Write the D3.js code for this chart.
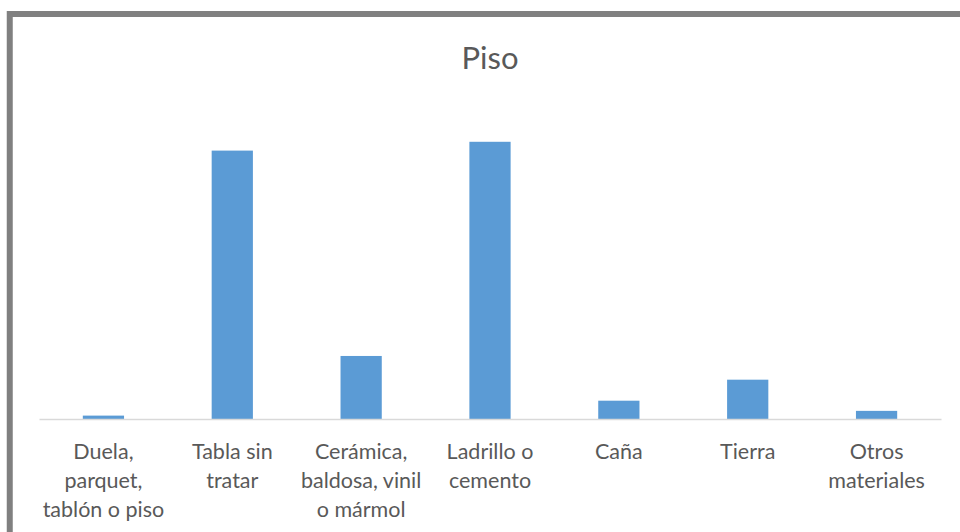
<!DOCTYPE html>
<html>
<head>
<meta charset="utf-8">
<script src="https://cdn.jsdelivr.net/npm/d3@7/dist/d3.min.js"></script>
<style>
  html, body { margin: 0; padding: 0; background: #fff; }
  svg { display: block; }
</style>
</head>
<body>
<svg id="chart" width="960" height="532"></svg>
<script>
// ---- data ----
const title = "Piso";
const categories = [
  "Duela,\nparquet,\ntablón o piso",
  "Tabla sin\ntratar",
  "Cerámica,\nbaldosa, vinil\no mármol",
  "Ladrillo o\ncemento",
  "Caña",
  "Tierra",
  "Otros\nmateriales"
];
const values = [0.5, 39.6, 9.3, 40.9, 2.7, 5.8, 1.2];
const yDomain = [0, 45];

// ---- layout ----
const W = 960, H = 532;
const plot = { left: 39, right: 941, top: 114, bottom: 419 };
const barColor = "#5B9BD5";
const textColor = "#595959";
const fontFamily = "Lato, 'Open Sans', sans-serif";

const svg = d3.select("#chart");

svg.append("rect")
  .attr("x", 0).attr("y", 0).attr("width", W).attr("height", H)
  .attr("fill", "#fff");

// outer chart border (extends past right/bottom edges)
svg.append("rect")
  .attr("x", 9.75).attr("y", 14)
  .attr("width", W + 20).attr("height", H + 20)
  .attr("fill", "none")
  .attr("stroke", "#808080")
  .attr("stroke-width", 6);

const x = d3.scaleBand()
  .domain(categories)
  .range([plot.left, plot.right])
  .paddingInner(0.68)
  .paddingOuter(0.34);

const y = d3.scaleLinear()
  .domain(yDomain)
  .range([plot.bottom, plot.top]);

// bars
svg.append("g")
  .selectAll("rect")
  .data(categories.map((c, i) => ({ c, v: values[i] })))
  .join("rect")
  .attr("x", d => x(d.c))
  .attr("width", x.bandwidth())
  .attr("y", d => y(d.v))
  .attr("height", d => y(0) - y(d.v))
  .attr("fill", barColor);

// x axis
const xAxis = d3.axisBottom(x).tickSize(0).tickFormat("");
const gx = svg.append("g")
  .attr("transform", `translate(0,${plot.bottom})`)
  .call(xAxis);
gx.select(".domain")
  .attr("stroke", "#d9d9d9")
  .attr("stroke-width", 1.5);

// tick labels (multi-line)
gx.selectAll(".tick").each(function(d) {
  const g = d3.select(this);
  g.selectAll("text").remove();
  const lines = d.split("\n");
  const t = g.append("text")
    .attr("text-anchor", "middle")
    .attr("fill", textColor)
    .attr("font-family", fontFamily)
    .attr("font-size", 21.5);
  lines.forEach((ln, i) => {
    t.append("tspan")
      .attr("x", 0)
      .attr("y", 39.5 + i * 29)
      .text(ln);
  });
});

// title
svg.append("text")
  .attr("x", 490)
  .attr("y", 69)
  .attr("text-anchor", "middle")
  .attr("fill", textColor)
  .attr("font-family", fontFamily)
  .attr("font-size", 31)
  .text(title);
</script>
</body>
</html>
